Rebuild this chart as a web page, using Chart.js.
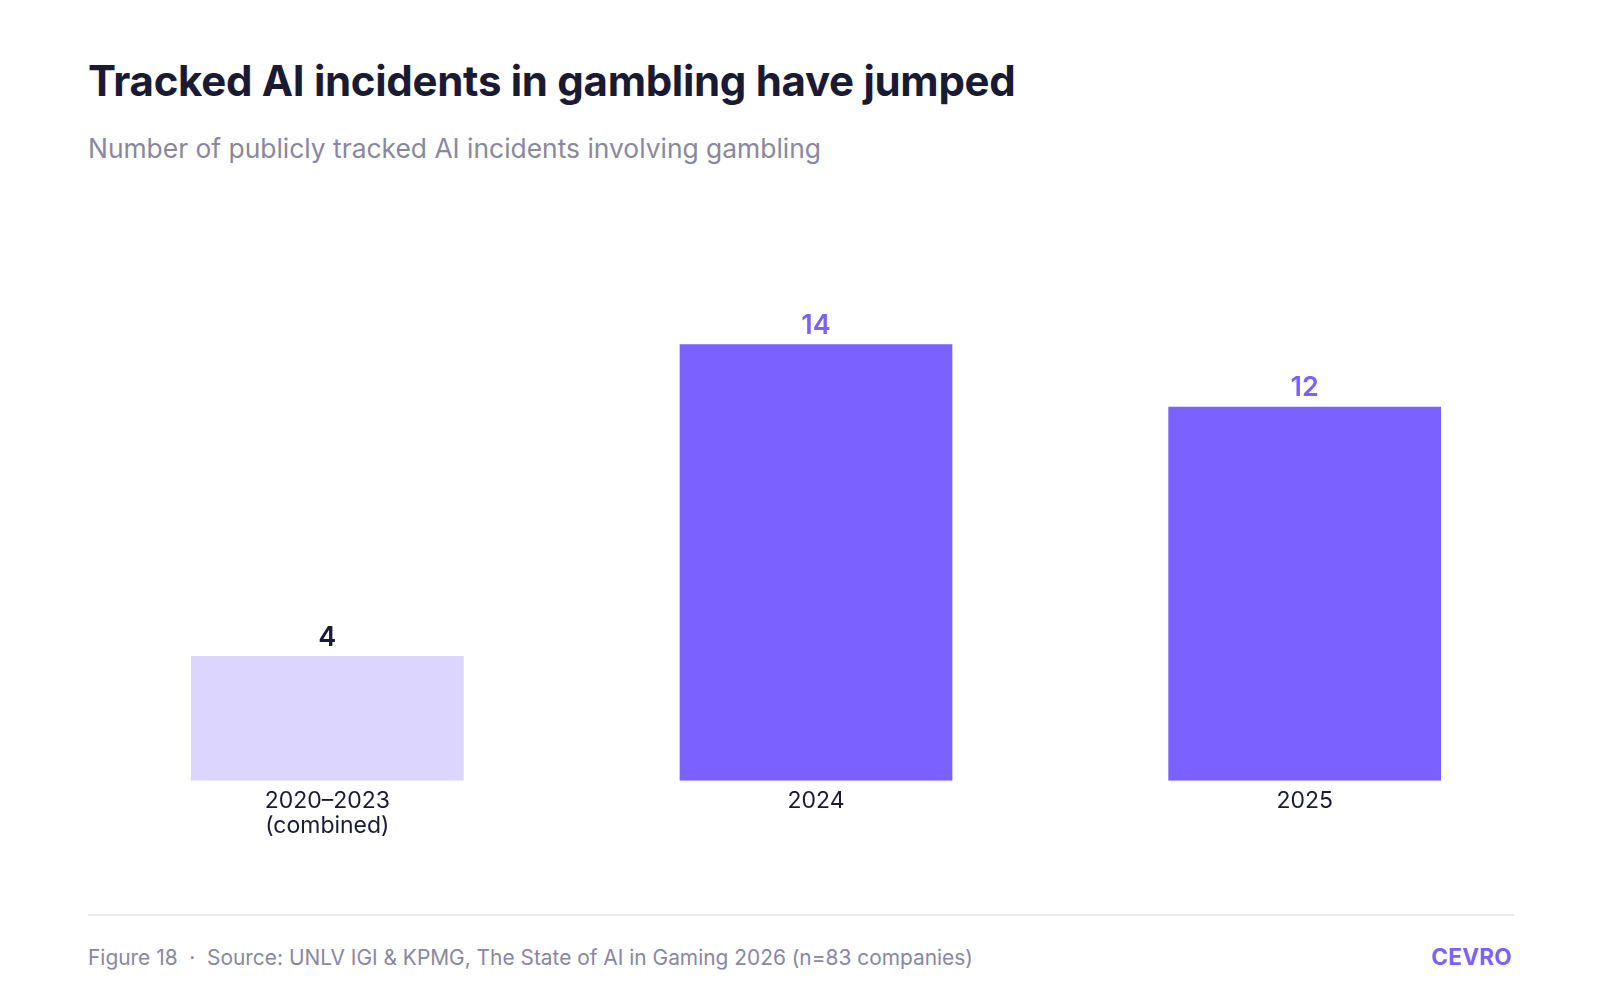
<!DOCTYPE html>
<html>
<head>
<meta charset="utf-8">
<script src="https://cdn.jsdelivr.net/npm/chart.js@4.4.1/dist/chart.umd.min.js"></script>
<style>
  html, body { margin: 0; padding: 0; background: #ffffff; }
  body { width: 1600px; height: 1000px; position: relative; font-family: Inter, "Noto Sans", sans-serif; overflow: hidden; }
  #title { position: absolute; left: 88px; top: 55px; font-size: 42px; font-weight: 700; color: #1b1a33; letter-spacing: -0.3px; white-space: nowrap; }
  #subtitle { position: absolute; left: 88px; top: 132px; font-size: 26.4px; font-weight: 400; color: #8a879e; white-space: nowrap; }
  #wrap { position: absolute; left: 0; top: 240px; width: 1600px; height: 606px; }
  #rule { position: absolute; left: 88px; top: 914px; width: 1426px; height: 2px; background: #ebeaf3; }
  #foot { position: absolute; left: 88px; top: 945px; font-size: 20.9px; color: #8a879e; white-space: nowrap; }
  #brand { position: absolute; right: 88px; top: 943px; font-size: 22.5px; font-weight: 700; color: #7b61ff; letter-spacing: 0.3px; }
</style>
</head>
<body>
<div id="title">Tracked AI incidents in gambling have jumped</div>
<div id="subtitle">Number of publicly tracked AI incidents involving gambling</div>
<div id="wrap"><canvas id="c"></canvas></div>
<div id="rule"></div>
<div id="foot">Figure 18 &nbsp;·&nbsp; Source: UNLV IGI &amp; KPMG, The State of AI in Gaming 2026 (n=83 companies)</div>
<div id="brand">CEVRO</div>
<script>
const categories = [["2020–2023", "(combined)"], "2024", "2025"];
const incidents = [4, 14, 12];
const barColors = ["#dcd6ff", "#7b61ff", "#7b61ff"];
const labelColors = ["#1b1a33", "#7b61ff", "#7b61ff"];

const valueLabels = {
  id: "valueLabels",
  afterDatasetsDraw(chart) {
    const ctx = chart.ctx;
    const meta = chart.getDatasetMeta(0);
    ctx.save();
    ctx.font = "600 27px Inter, 'Noto Sans', sans-serif";
    ctx.textAlign = "center";
    ctx.textBaseline = "bottom";
    meta.data.forEach((bar, i) => {
      ctx.fillStyle = labelColors[i];
      ctx.fillText(String(incidents[i]), bar.x, bar.y - 5);
    });
    ctx.restore();
  }
};

new Chart(document.getElementById("c"), {
  type: "bar",
  data: {
    labels: categories,
    datasets: [{
      data: incidents,
      backgroundColor: barColors,
      borderWidth: 0,
      categoryPercentage: 1,
      barPercentage: 0.558
    }]
  },
  options: {
    responsive: true,
    maintainAspectRatio: false,
    animation: false,
    layout: { padding: { left: 83, right: 51, top: 42, bottom: 0 } },
    plugins: { legend: { display: false }, tooltip: { enabled: false } },
    scales: {
      x: {
        grid: { display: false, drawTicks: false },
        border: { display: false },
        ticks: {
          color: "#1b1a33",
          font: { family: "Inter, 'Noto Sans', sans-serif", size: 23, lineHeight: 1.07 },
          padding: 8,
          maxRotation: 0
        }
      },
      y: {
        display: false,
        min: 0,
        max: 16
      }
    }
  },
  plugins: [valueLabels]
});
</script>
</body>
</html>
